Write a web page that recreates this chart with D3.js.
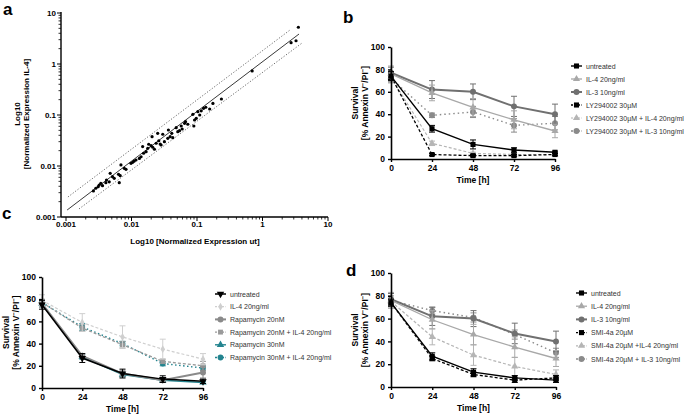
<!DOCTYPE html>
<html><head><meta charset="utf-8">
<script src="https://cdn.jsdelivr.net/npm/d3@7"></script>
<style>body{margin:0;background:#fff}svg{display:block;opacity:0.999}text{font-family:"Liberation Sans",Arial,sans-serif}</style>
</head><body><svg id="chart" width="685" height="416"></svg>
<script>
// ---------- Panel a data ----------
const scatterX = [0.00262,0.00285,0.00310,0.00321,0.00340,0.00361,0.00406,0.00415,0.00457,0.00473,0.00513,0.00545,0.00650,0.00634,0.00690,0.00673,0.00776,0.00824,0.00982,0.0104,0.0110,0.0117,0.0132,0.0140,0.0148,0.0153,0.0167,0.0177,0.0183,0.0199,0.0206,0.0211,0.0224,0.0238,0.0251,0.0261,0.0274,0.0283,0.0300,0.0318,0.0358,0.0366,0.0389,0.0412,0.0427,0.0481,0.0509,0.0541,0.0574,0.0594,0.0646,0.0668,0.0724,0.0865,0.0918,0.0895,0.0975,0.103,0.110,0.116,0.126,0.136,0.156,0.175,0.236,0.695,2.73,3.25,3.53];
const scatterY = [0.00324,0.00366,0.00393,0.00424,0.00458,0.00411,0.00471,0.00531,0.00490,0.00719,0.00617,0.00574,0.00471,0.00687,0.0105,0.00646,0.00902,0.00861,0.0113,0.0118,0.0125,0.0131,0.0141,0.0152,0.0240,0.0178,0.0191,0.0222,0.0267,0.0250,0.0376,0.0233,0.0213,0.0279,0.0438,0.0313,0.0270,0.0258,0.0419,0.0300,0.0349,0.0508,0.0376,0.0438,0.0359,0.0564,0.0471,0.0492,0.0608,0.0531,0.0687,0.0740,0.0658,0.103,0.0798,0.0608,0.0861,0.116,0.100,0.121,0.135,0.142,0.131,0.169,0.206,0.730,2.62,2.86,5.25];
const fitX = [0.00104, 3.61];
const fitY = [0.00137, 3.87];
const upperBandX = [0.00107, 2.63];
const upperBandY = [0.00247, 4.64];
const lowerBandX = [0.00158, 4.02];
const lowerBandY = [0.00144, 2.58];
const logTicks = [0.001, 0.01, 0.1, 1, 10];
const logTickLabels = ["0.001", "0.01", "0.1", "1", "10"];

// ---------- Survival panels ----------
const timePoints = [0, 24, 48, 72, 96];
const survivalTicks = [0, 20, 40, 60, 80, 100];

// panel b
const bLabels = ["untreated", "IL-4 20ng/ml", "IL-3 10ng/ml", "LY294002 30µM", "LY294002 30µM + IL-4 20ng/ml", "LY294002 30µM + IL-3 10ng/ml"];
const bUntreated = [74, 27, 13, 8, 6];
const bUntreatedErr = [4, 3, 4, 2, 1];
const bIL4 = [76, 59, 46, 35, 25];
const bIL4Err = [7, 7, 8, 8, 6];
const bIL3 = [77, 62, 60, 47, 40];
const bIL3Err = [5, 8, 7, 9, 9];
const bLY = [74, 4, 3, 3, 4];
const bLYErr = [3, 1, 1, 1, 1];
const bLYIL4 = [73, 14, 5, 4, 4];
const bLYIL4Err = [4, 2, 1, 1, 1];
const bLYIL3 = [72, 39, 42, 30, 32];
const bLYIL3Err = [4, 2, 5, 6, 6];

// panel c
const cLabels = ["untreated", "IL-4 20ng/ml", "Rapamycin 20nM", "Rapamycin 20nM + IL-4 20ng/ml", "Rapamycin 30nM", "Rapamycin 30nM + IL-4 20ng/ml"];
const cUntreated = [75, 27, 13, 8, 6];
const cUntreatedErr = [4, 4, 4, 3, 2];
const cIL4 = [79, 59, 46, 35, 26];
const cIL4Err = [5, 8, 10, 9, 5];
const cRapa20 = [76, 29, 13, 7, 14];
const cRapa20Err = [3, 2, 3, 2, 5];
const cRapa20IL4 = [77, 54, 39, 24, 20];
const cRapa20IL4Err = [3, 3, 3, 2, 4];
const cRapa30 = [76, 28, 12, 7, 5];
const cRapa30Err = [3, 2, 2, 2, 1];
const cRapa30IL4 = [77, 55, 40, 22, 18];
const cRapa30IL4Err = [2, 3, 2, 2, 2];

// panel d
const dLabels = ["untreated", "IL-4 20ng/ml", "IL-3 10ng/ml", "SMI-4a 20µM", "SMI-4a 20µM  +IL-4 20ng/ml", "SMI-4a 20µM + IL-3 10ng/ml"];
const dUntreated = [74, 27, 13, 8, 6];
const dUntreatedErr = [3, 3, 3, 2, 2];
const dIL4 = [76, 59, 46, 35, 25];
const dIL4Err = [7, 8, 9, 9, 7];
const dIL3 = [77, 62, 60, 47, 40];
const dIL3Err = [5, 8, 7, 9, 9];
const dSMI = [74, 25, 11, 6, 8];
const dSMIErr = [3, 2, 2, 2, 2];
const dSMIIL4 = [75, 44, 28, 18, 11];
const dSMIIL4Err = [5, 7, 9, 8, 4];
const dSMIIL3 = [76, 67, 61, 46, 30];
const dSMIIL3Err = [4, 3, 4, 4, 4];

const svg = d3.select("#chart");
const FONT = '"Liberation Sans",Arial,sans-serif';

function panelLetter(x, y, t) {
  svg.append("text").attr("x", x).attr("y", y).attr("font-size", 17).attr("font-weight", "bold").text(t);
}

// ================= Panel a =================
(function () {
  const x = d3.scaleLog().domain([0.001, 10]).range([66, 328]);
  const y = d3.scaleLog().domain([0.001, 10]).range([217, 13]);
  const g = svg.append("g");
  const axisX0 = 61;
  const minors = [];
  for (let e = -3; e < 1; e++) for (let m = 2; m <= 9; m++) minors.push(m * Math.pow(10, e));
  g.append("line").attr("x1", axisX0).attr("x2", 328).attr("y1", 217).attr("y2", 217).attr("stroke", "#000").attr("stroke-width", 1.4);
  g.selectAll(".xmin").data(minors).join("line").attr("x1", d => x(d)).attr("x2", d => x(d)).attr("y1", 217).attr("y2", 219.5).attr("stroke", "#000").attr("stroke-width", 0.8);
  g.selectAll(".xmaj").data(logTicks).join("line").attr("x1", d => x(d)).attr("x2", d => x(d)).attr("y1", 217).attr("y2", 221).attr("stroke", "#000").attr("stroke-width", 1);
  g.selectAll(".xlab").data(logTicks).join("text").attr("x", d => x(d)).attr("y", 227).attr("text-anchor", "middle").attr("font-size", 8).attr("font-weight", "bold").text((d, i) => logTickLabels[i]);
  g.append("line").attr("x1", axisX0).attr("x2", axisX0).attr("y1", 217).attr("y2", 12).attr("stroke", "#000").attr("stroke-width", 1.4);
  g.selectAll(".ymin").data(minors).join("line").attr("x1", axisX0 - 2.5).attr("x2", axisX0).attr("y1", d => y(d)).attr("y2", d => y(d)).attr("stroke", "#000").attr("stroke-width", 0.8);
  g.selectAll(".ymaj").data(logTicks).join("line").attr("x1", axisX0 - 4).attr("x2", axisX0).attr("y1", d => y(d)).attr("y2", d => y(d)).attr("stroke", "#000").attr("stroke-width", 1);
  g.selectAll(".ylab").data(logTicks).join("text").attr("x", axisX0 - 5).attr("y", d => y(d) + 3).attr("text-anchor", "end").attr("font-size", 8).attr("font-weight", "bold").text((d, i) => logTickLabels[i]);
  g.append("text").attr("x", 195).attr("y", 244).attr("text-anchor", "middle").attr("font-size", 8).attr("font-weight", "bold").text("Log10 [Normalized Expression ut]");
  const yt = g.append("text").attr("transform", "translate(20,114) rotate(-90)").attr("text-anchor", "middle").attr("font-size", 8).attr("font-weight", "bold");
  yt.append("tspan").attr("x", 0).attr("dy", 0).text("Log10");
  yt.append("tspan").attr("x", 0).attr("dy", 9).text("[Normalized Expression IL-4]");
  const ln = d3.line().x(d => x(d[0])).y(d => y(d[1]));
  g.append("path").attr("d", ln(d3.zip(fitX, fitY))).attr("stroke", "#222").attr("stroke-width", 0.9).attr("fill", "none");
  g.append("path").attr("d", ln(d3.zip(upperBandX, upperBandY))).attr("stroke", "#444").attr("stroke-width", 0.8).attr("stroke-dasharray", "1.2,1.8").attr("fill", "none");
  g.append("path").attr("d", ln(d3.zip(lowerBandX, lowerBandY))).attr("stroke", "#444").attr("stroke-width", 0.8).attr("stroke-dasharray", "1.2,1.8").attr("fill", "none");
  g.selectAll(".pt").data(d3.zip(scatterX, scatterY)).join("circle").attr("cx", d => x(d[0])).attr("cy", d => y(d[1])).attr("r", 1.6).attr("fill", "#000");
  panelLetter(3, 15, "a");
})();

// ================= Survival panels =================
function markerPath(type, s) {
  const sym = { square: d3.symbolSquare, circle: d3.symbolCircle, triangle: d3.symbolTriangle, diamond: d3.symbolDiamond, triDown: d3.symbolTriangle }[type];
  return d3.symbol().type(sym).size(s)();
}

function survivalPanel(cfg) {
  const x = d3.scaleLinear().domain([0, 96]).range([cfg.x0, cfg.x1]);
  const y = d3.scaleLinear().domain([0, 100]).range([cfg.y0, cfg.y1]);
  const g = svg.append("g");
  const series = cfg.series;
  series.slice().reverse().forEach(s => {
    const pts = d3.zip(timePoints, s.values, s.err);
    const ln = d3.line().x(d => x(d[0])).y(d => y(d[1]));
    g.append("path").attr("d", ln(pts)).attr("fill", "none").attr("stroke", s.color).attr("stroke-width", s.width).attr("stroke-dasharray", s.dash || null);
    const eb = g.append("g");
    pts.forEach(p => {
      const xx = x(p[0]);
      eb.append("line").attr("x1", xx).attr("x2", xx).attr("y1", y(p[1] - p[2])).attr("y2", y(p[1] + p[2])).attr("stroke", s.color).attr("stroke-width", 1);
      [p[1] - p[2], p[1] + p[2]].forEach(v => eb.append("line").attr("x1", xx - 3).attr("x2", xx + 3).attr("y1", y(v)).attr("y2", y(v)).attr("stroke", s.color).attr("stroke-width", 1));
    });
    g.selectAll(null).data(pts).join("path").attr("d", markerPath(s.marker, s.size || 22))
      .attr("transform", d => `translate(${x(d[0])},${y(d[1])})${s.marker === "triDown" ? " rotate(180)" : ""}`)
      .attr("fill", s.color);
  });
  const ax = g.append("g").attr("transform", `translate(0,${cfg.y0})`).call(d3.axisBottom(x).tickValues(timePoints).tickSize(3).tickSizeOuter(0));
  const ay = g.append("g").attr("transform", `translate(${cfg.x0},0)`).call(d3.axisLeft(y).tickValues(survivalTicks).tickSize(3).tickSizeOuter(0));
  [ax, ay].forEach(a => {
    a.select(".domain").attr("stroke-width", 1.6);
    a.selectAll(".tick line").attr("stroke-width", 1.4);
    a.selectAll("text").attr("font-size", 8.5).attr("font-weight", "bold").attr("font-family", FONT).attr("fill", "#000");
  });
  g.append("text").attr("x", (cfg.x0 + cfg.x1) / 2).attr("y", cfg.y0 + 24).attr("text-anchor", "middle").attr("font-size", 8.5).attr("font-weight", "bold").text("Time [h]");
  const ym = (cfg.y0 + cfg.y1) / 2;
  g.append("text").attr("transform", `translate(${cfg.x0 - 33},${ym}) rotate(-90)`).attr("text-anchor", "middle").attr("font-size", 8.5).attr("font-weight", "bold").text("Survival");
  const t2 = g.append("text").attr("transform", `translate(${cfg.x0 - 23},${ym}) rotate(-90)`).attr("text-anchor", "middle").attr("font-size", 8.5).attr("font-weight", "bold");
  t2.append("tspan").text("[% Annexin V");
  t2.append("tspan").attr("font-size", 6).attr("dy", -3).text("−");
  t2.append("tspan").attr("dy", 3).text("/PI");
  t2.append("tspan").attr("font-size", 6).attr("dy", -3).text("−");
  t2.append("tspan").attr("dy", 3).text("]");
  const lg = g.append("g");
  series.forEach((s, i) => {
    const yy = cfg.legY + i * cfg.legDy;
    lg.append("line").attr("x1", cfg.legX).attr("x2", cfg.legX + 11).attr("y1", yy).attr("y2", yy).attr("stroke", s.color).attr("stroke-width", s.width).attr("stroke-dasharray", s.dash ? "2,1.5" : null);
    lg.append("path").attr("d", markerPath(s.marker, s.size || 22)).attr("transform", `translate(${cfg.legX + 5.5},${yy})${s.marker === "triDown" ? " rotate(180)" : ""}`).attr("fill", s.color);
    lg.append("text").attr("x", cfg.legX + 15).attr("y", yy + 2.5).attr("font-size", 7).attr("fill", "#333").text(cfg.labels[i]);
  });
}

const BLACK = "#000", LIGHT = "#a8a8a8", DARK = "#707070", MID = "#8a8a8a", TEAL = "#23848f";

survivalPanel({
  x0: 391, x1: 555, y0: 159, y1: 47, legX: 571, legY: 66, legDy: 13, labels: bLabels,
  series: [
    { values: bUntreated, err: bUntreatedErr, color: BLACK, width: 1.4, marker: "square", size: 26 },
    { values: bIL4, err: bIL4Err, color: LIGHT, width: 1.3, marker: "triangle" },
    { values: bIL3, err: bIL3Err, color: DARK, width: 2, marker: "circle", size: 28 },
    { values: bLY, err: bLYErr, color: BLACK, width: 1.3, marker: "square", size: 26, dash: "3,2" },
    { values: bLYIL4, err: bLYIL4Err, color: "#b5b5b5", width: 1.2, marker: "triangle", dash: "3,2" },
    { values: bLYIL3, err: bLYIL3Err, color: MID, width: 1.4, marker: "circle", size: 28, dash: "1.5,3" }
  ]
});
survivalPanel({
  x0: 42, x1: 203, y0: 388, y1: 277, legX: 215, legY: 294, legDy: 12.7, labels: cLabels,
  series: [
    { values: cUntreated, err: cUntreatedErr, color: BLACK, width: 1.5, marker: "triDown", size: 24 },
    { values: cIL4, err: cIL4Err, color: "#cfcfcf", width: 1.2, marker: "diamond", size: 18, dash: "3,2" },
    { values: cRapa20, err: cRapa20Err, color: MID, width: 2, marker: "circle", size: 28 },
    { values: cRapa20IL4, err: cRapa20IL4Err, color: "#9a9a9a", width: 1.3, marker: "square", size: 24, dash: "3,2" },
    { values: cRapa30, err: cRapa30Err, color: TEAL, width: 1.4, marker: "triangle", size: 24 },
    { values: cRapa30IL4, err: cRapa30IL4Err, color: TEAL, width: 1.4, marker: "circle", size: 26, dash: "1.5,2.5" }
  ]
});
survivalPanel({
  x0: 391, x1: 556, y0: 387, y1: 273, legX: 576, legY: 293, legDy: 13.2, labels: dLabels,
  series: [
    { values: dUntreated, err: dUntreatedErr, color: BLACK, width: 1.4, marker: "square", size: 26 },
    { values: dIL4, err: dIL4Err, color: LIGHT, width: 1.3, marker: "triangle" },
    { values: dIL3, err: dIL3Err, color: DARK, width: 2, marker: "circle", size: 28 },
    { values: dSMI, err: dSMIErr, color: BLACK, width: 1.3, marker: "square", size: 26, dash: "3,2" },
    { values: dSMIIL4, err: dSMIIL4Err, color: "#b5b5b5", width: 1.2, marker: "triangle", dash: "3,2" },
    { values: dSMIIL3, err: dSMIIL3Err, color: MID, width: 1.4, marker: "circle", size: 28, dash: "1.5,3" }
  ]
});
panelLetter(343, 23, "b");
panelLetter(2, 219, "c");
panelLetter(346, 276, "d");
</script></body></html>
